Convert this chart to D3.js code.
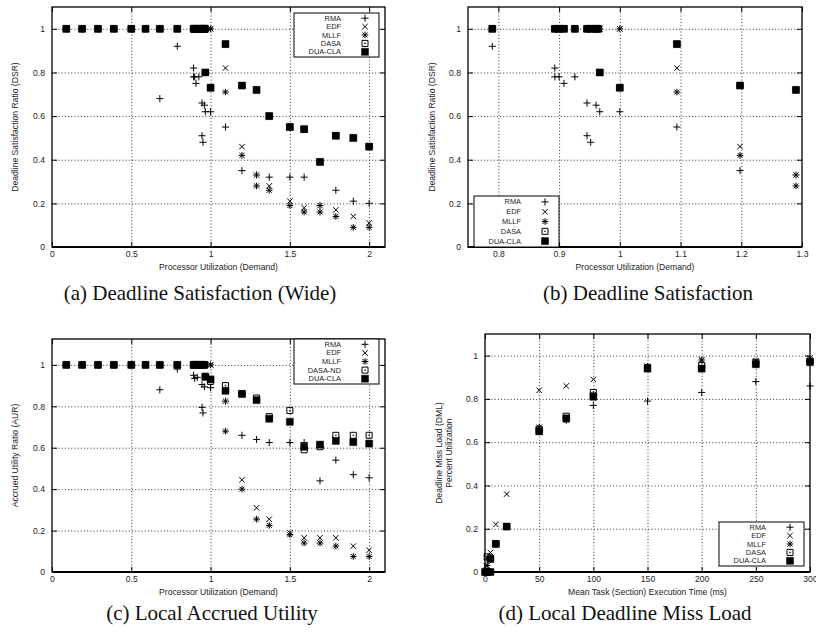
<!DOCTYPE html>
<html>
<head>
<meta charset="utf-8">
<script src="https://cdn.jsdelivr.net/npm/d3@7"></script>
<style>
  body { margin: 0; background: #fff; }
  svg { display: block; }
  .caption { font-family: "Liberation Serif", "DejaVu Serif", serif; fill: #111; }
  .axis-title, .legend-label { font-family: "Liberation Sans", Arial, sans-serif; fill: #222; }
</style>
</head>
<body>
<svg id="chart" width="816" height="635"></svg>
<script>
////////////////////////////////////////////////////////////////////////////////
// four gnuplot-style scatter panels: DSR (wide / zoomed), AUR, DML
////////////////////////////////////////////////////////////////////////////////

// Series / legend names
const seriesNames = ["RMA", "EDF", "MLLF", "DASA", "DUA-CLA"];
const seriesNamesAur = ["RMA", "EDF", "MLLF", "DASA-ND", "DUA-CLA"];

// Tick labels
const utilTicksWide = [0, 0.5, 1, 1.5, 2];
const utilTicksNarrow = [0.8, 0.9, 1, 1.1, 1.2, 1.3];
const execTicks = [0, 50, 100, 150, 200, 250, 300];
const ratioTicks = [0, 0.2, 0.4, 0.6, 0.8, 1];

// Deadline satisfaction ratio vs utilization  [utilization, DSR]
const dsrRMA = [[0.09, 1], [0.19, 1], [0.29, 1], [0.39, 1], [0.5, 1], [0.59, 1], [0.68, 0.68], [0.79, 0.92],
  [0.893, 0.82], [0.893, 0.78], [0.9, 0.78], [0.908, 0.75], [0.926, 0.78], [0.946, 0.66], [0.946, 0.51],
  [0.952, 0.48], [0.961, 0.65], [0.967, 0.62], [1.0, 0.62], [1.094, 0.55], [1.198, 0.35], [1.29, 0.33],
  [1.37, 0.32], [1.5, 0.32], [1.59, 0.32], [1.69, 0.19], [1.79, 0.26], [1.9, 0.21], [2.0, 0.2]];
const dsrEDF = [[0.09, 1], [0.19, 1], [0.29, 1], [0.39, 1], [0.5, 1], [0.59, 1], [0.68, 1], [0.79, 1],
  [0.893, 1], [0.9, 1], [0.908, 1], [0.926, 1], [0.946, 1], [0.952, 1], [0.961, 1], [0.967, 1], [1.0, 1],
  [1.094, 0.82], [1.198, 0.46], [1.29, 0.33], [1.37, 0.28], [1.5, 0.21], [1.59, 0.18], [1.69, 0.19],
  [1.79, 0.17], [1.9, 0.14], [2.0, 0.11]];
const dsrMLLF = [[0.09, 1], [0.19, 1], [0.29, 1], [0.39, 1], [0.5, 1], [0.59, 1], [0.68, 1], [0.79, 1],
  [0.893, 1], [0.9, 1], [0.908, 1], [0.926, 1], [0.946, 1], [0.952, 1], [0.961, 1], [0.967, 1], [1.0, 1],
  [1.094, 0.71], [1.198, 0.42], [1.29, 0.28], [1.37, 0.26], [1.5, 0.19], [1.59, 0.16], [1.69, 0.16],
  [1.79, 0.14], [1.9, 0.09], [2.0, 0.09]];
const dsrDASA = [[0.09, 1], [0.19, 1], [0.29, 1], [0.39, 1], [0.5, 1], [0.59, 1], [0.68, 1], [0.79, 1],
  [0.893, 1], [0.9, 1], [0.908, 1], [0.926, 1], [0.946, 1], [0.952, 1], [0.961, 1], [0.964, 1], [0.967, 0.8],
  [1.0, 0.73], [1.094, 0.93], [1.198, 0.74], [1.29, 0.72], [1.37, 0.6], [1.5, 0.55], [1.59, 0.54],
  [1.69, 0.39], [1.79, 0.51], [1.9, 0.5], [2.0, 0.46]];
const dsrDUA = [[0.09, 1], [0.19, 1], [0.29, 1], [0.39, 1], [0.5, 1], [0.59, 1], [0.68, 1], [0.79, 1],
  [0.893, 1], [0.9, 1], [0.908, 1], [0.926, 1], [0.946, 1], [0.952, 1], [0.961, 1], [0.964, 1], [0.967, 0.8],
  [1.0, 0.73], [1.094, 0.93], [1.198, 0.74], [1.29, 0.72], [1.37, 0.6], [1.5, 0.55], [1.59, 0.54],
  [1.69, 0.39], [1.79, 0.51], [1.9, 0.5], [2.0, 0.46]];

// Accrued utility ratio vs utilization  [utilization, AUR]
const aurRMA = [[0.09, 1], [0.19, 1], [0.29, 1], [0.39, 1], [0.5, 1], [0.59, 1], [0.68, 0.88], [0.79, 0.98],
  [0.893, 0.95], [0.9, 0.935], [0.916, 0.94], [0.946, 0.905], [0.961, 0.894], [1.0, 0.89], [0.946, 0.795],
  [0.952, 0.768], [1.094, 0.825], [1.198, 0.66], [1.29, 0.64], [1.37, 0.625], [1.5, 0.625], [1.59, 0.625],
  [1.69, 0.44], [1.79, 0.54], [1.9, 0.47], [2.0, 0.455]];
const aurEDF = [[0.09, 1], [0.19, 1], [0.29, 1], [0.39, 1], [0.5, 1], [0.59, 1], [0.68, 1], [0.79, 1],
  [0.893, 1], [0.9, 1], [0.908, 1], [0.926, 1], [0.946, 1], [0.961, 1], [1.0, 1], [1.094, 0.825],
  [1.198, 0.445], [1.29, 0.31], [1.37, 0.255], [1.5, 0.19], [1.59, 0.165], [1.69, 0.165], [1.79, 0.165],
  [1.9, 0.125], [2.0, 0.105]];
const aurMLLF = [[0.09, 1], [0.19, 1], [0.29, 1], [0.39, 1], [0.5, 1], [0.59, 1], [0.68, 1], [0.79, 1],
  [0.893, 1], [0.9, 1], [0.908, 1], [0.926, 1], [0.946, 1], [0.961, 1], [1.0, 1], [1.094, 0.68],
  [1.198, 0.4], [1.29, 0.255], [1.37, 0.225], [1.5, 0.18], [1.59, 0.14], [1.69, 0.14], [1.79, 0.125],
  [1.9, 0.075], [2.0, 0.075]];
const aurDASA = [[0.09, 1], [0.19, 1], [0.29, 1], [0.39, 1], [0.5, 1], [0.59, 1], [0.68, 1], [0.79, 1],
  [0.893, 1], [0.9, 1], [0.908, 1], [0.926, 1], [0.946, 1], [0.961, 1], [0.967, 0.945], [1.0, 0.92],
  [1.094, 0.9], [1.198, 0.86], [1.29, 0.84], [1.37, 0.75], [1.5, 0.78], [1.59, 0.59], [1.69, 0.605],
  [1.79, 0.66], [1.9, 0.66], [2.0, 0.66]];
const aurDUA = [[0.09, 1], [0.19, 1], [0.29, 1], [0.39, 1], [0.5, 1], [0.59, 1], [0.68, 1], [0.79, 1],
  [0.893, 1], [0.9, 1], [0.908, 1], [0.926, 1], [0.946, 1], [0.961, 1], [0.967, 0.942], [1.0, 0.93],
  [1.094, 0.875], [1.198, 0.86], [1.29, 0.83], [1.37, 0.74], [1.5, 0.725], [1.59, 0.605], [1.69, 0.615],
  [1.79, 0.633], [1.9, 0.627], [2.0, 0.62]];

// Deadline miss load vs mean execution time  [ms, DML]
const dmlRMA = [[1, 0], [2, 0], [5, 0], [10, 0.13], [20, 0.21], [50, 0.66], [75, 0.71], [100, 0.77],
  [150, 0.79], [200, 0.83], [250, 0.88], [300, 0.86]];
const dmlEDF = [[1, 0.03], [2, 0.065], [5, 0.09], [10, 0.22], [20, 0.36], [50, 0.84], [75, 0.86],
  [100, 0.89], [150, 0.95], [200, 0.98], [250, 0.975], [300, 0.99]];
const dmlMLLF = [[1, 0], [2, 0.03], [5, 0.06], [10, 0.13], [20, 0.21], [50, 0.67], [75, 0.7], [100, 0.82],
  [150, 0.95], [200, 0.98], [250, 0.97], [300, 0.98]];
const dmlDASA = [[1, 0], [2, 0.07], [5, 0.065], [10, 0.13], [20, 0.21], [50, 0.66], [75, 0.72],
  [100, 0.83], [150, 0.945], [200, 0.955], [250, 0.97], [300, 0.975]];
const dmlDUA = [[0, 0], [2.5, 0], [5, 0], [5, 0.06], [10, 0.13], [20, 0.21], [50, 0.65], [75, 0.71],
  [100, 0.81], [150, 0.94], [200, 0.94], [250, 0.96], [300, 0.97]];

// Marker shapes (d3 custom symbol types, stroked)
const plusSym = {
  draw(ctx, size) {
    const r = Math.sqrt(size) / 2;
    ctx.moveTo(-r, 0); ctx.lineTo(r, 0);
    ctx.moveTo(0, -r); ctx.lineTo(0, r);
  }
};
const timesSym = {
  draw(ctx, size) {
    const r = Math.sqrt(size) / 2;
    ctx.moveTo(-r, -r); ctx.lineTo(r, r);
    ctx.moveTo(-r, r); ctx.lineTo(r, -r);
  }
};
const starSym = {
  draw(ctx, size) {
    const r = Math.sqrt(size) / 2, q = r * 0.75;
    ctx.moveTo(-r, 0); ctx.lineTo(r, 0);
    ctx.moveTo(0, -r); ctx.lineTo(0, r);
    ctx.moveTo(-q, -q); ctx.lineTo(q, q);
    ctx.moveTo(-q, q); ctx.lineTo(q, -q);
  }
};

// one entry per series, same order as the legend
const markerStyles = [
  { type: plusSym, size: 50, fill: "none", dot: false },
  { type: timesSym, size: 30, fill: "none", dot: false },
  { type: starSym, size: 44, fill: "none", dot: false },
  { type: d3.symbolSquare, size: 36, fill: "none", dot: true },
  { type: d3.symbolSquare, size: 49, fill: "#000", dot: false }
];

const panels = [
  {
    id: "a", box: { left: 52, right: 385, top: 7, bottom: 247 },
    xDomain: [0, 2.1], yDomain: [0, 1.1], xTicks: utilTicksWide, yTicks: ratioTicks,
    series: [dsrRMA, dsrEDF, dsrMLLF, dsrDASA, dsrDUA], names: seriesNames,
    legend: { x: 294, y: 13, w: 85, h: 44 },
    xTitle: "Processor Utilization (Demand)", yTitle: ["Deadline Satisfaction Ratio (DSR)"], yTitleX: 15,
    caption: "(a) Deadline Satisfaction (Wide)", captionX: 200, captionY: 300
  },
  {
    id: "b", box: { left: 468, right: 802, top: 7, bottom: 247 },
    xDomain: [0.75, 1.3], yDomain: [0, 1.1], xTicks: utilTicksNarrow, yTicks: ratioTicks,
    series: [dsrRMA, dsrEDF, dsrMLLF, dsrDASA, dsrDUA], names: seriesNames,
    legend: { x: 474, y: 196, w: 85, h: 51 },
    xTitle: "Processor Utilization (Demand)", yTitle: ["Deadline Satisfaction Ratio (DSR)"], yTitleX: 432,
    caption: "(b) Deadline Satisfaction", captionX: 648, captionY: 300
  },
  {
    id: "c", box: { left: 52, right: 385, top: 339, bottom: 572 },
    xDomain: [0, 2.1], yDomain: [0, 1.125], xTicks: utilTicksWide, yTicks: ratioTicks,
    series: [aurRMA, aurEDF, aurMLLF, aurDASA, aurDUA], names: seriesNamesAur,
    legend: { x: 294, y: 339, w: 85, h: 45 },
    xTitle: "Processor Utilization (Demand)", yTitle: ["Accrued Utility Ratio (AUR)"], yTitleX: 15,
    caption: "(c) Local Accrued Utility", captionX: 212, captionY: 620
  },
  {
    id: "d", box: { left: 485, right: 810, top: 334, bottom: 572 },
    xDomain: [0, 300], yDomain: [0, 1.1], xTicks: execTicks, yTicks: ratioTicks,
    series: [dmlRMA, dmlEDF, dmlMLLF, dmlDASA, dmlDUA], names: seriesNames,
    legend: { x: 719, y: 522, w: 85, h: 44 },
    xTitle: "Mean Task (Section) Execution Time (ms)",
    yTitle: ["Deadline Miss Load (DML)", "Percent Utilization"], yTitleX: 444,
    caption: "(d) Local Deadline Miss Load", captionX: 625, captionY: 620
  }
];

const svg = d3.select("#chart");
const fmt = d3.format("~g");
const smallFont = 8.6;
const legendFont = 7.4;

function drawMarker(sel, style) {
  sel.append("path")
    .attr("d", d3.symbol().type(style.type).size(style.size)())
    .attr("fill", style.fill)
    .attr("stroke", "#000")
    .attr("stroke-width", style.fill === "none" ? 1 : 0.5);
  if (style.dot) sel.append("circle").attr("r", 0.8).attr("fill", "#000");
}

function styleAxis(sel) {
  sel.select(".domain").remove();
  sel.attr("font-size", smallFont)
    .attr("font-family", "'Liberation Sans', Arial, sans-serif");
  sel.selectAll(".tick line").attr("stroke", "#000").attr("stroke-width", 1);
  sel.selectAll(".tick text").attr("fill", "#222");
}

function drawPanel(p) {
  const b = p.box;
  const w = b.right - b.left, h = b.bottom - b.top;
  const g = svg.append("g").attr("class", "panel panel-" + p.id);

  const x = d3.scaleLinear().domain(p.xDomain).range([b.left, b.right]);
  const y = d3.scaleLinear().domain(p.yDomain).range([b.bottom, b.top]);

  // dotted grid, skipping lines that sit on the frame
  const gridX = p.xTicks.filter(v => x(v) > b.left + 1 && x(v) < b.right - 1);
  const gridY = p.yTicks.filter(v => y(v) < b.bottom - 1 && y(v) > b.top + 1);
  g.append("g")
    .attr("transform", `translate(0,${b.bottom})`)
    .call(d3.axisBottom(x).tickValues(gridX).tickSize(-h).tickFormat(""))
    .call(sel => sel.select(".domain").remove())
    .selectAll("line")
    .attr("stroke", "#000").attr("stroke-width", 0.8).attr("stroke-dasharray", "1,2.2");
  g.append("g")
    .attr("transform", `translate(${b.left},0)`)
    .call(d3.axisLeft(y).tickValues(gridY).tickSize(-w).tickFormat(""))
    .call(sel => sel.select(".domain").remove())
    .selectAll("line")
    .attr("stroke", "#000").attr("stroke-width", 0.8).attr("stroke-dasharray", "1,2.2");

  // axes with inward ticks, mirrored
  g.append("g")
    .attr("transform", `translate(0,${b.bottom})`)
    .call(d3.axisBottom(x).tickValues(p.xTicks).tickSizeInner(-5).tickSizeOuter(0).tickPadding(4).tickFormat(fmt))
    .call(styleAxis);
  g.append("g")
    .attr("transform", `translate(0,${b.top})`)
    .call(d3.axisTop(x).tickValues(p.xTicks).tickSizeInner(-5).tickSizeOuter(0).tickFormat(""))
    .call(styleAxis);
  g.append("g")
    .attr("transform", `translate(${b.left},0)`)
    .call(d3.axisLeft(y).tickValues(p.yTicks).tickSizeInner(-5).tickSizeOuter(0).tickPadding(7).tickFormat(fmt))
    .call(styleAxis);
  g.append("g")
    .attr("transform", `translate(${b.right},0)`)
    .call(d3.axisRight(y).tickValues(p.yTicks).tickSizeInner(-5).tickSizeOuter(0).tickFormat(""))
    .call(styleAxis);

  // frame
  g.append("rect")
    .attr("x", b.left).attr("y", b.top).attr("width", w).attr("height", h)
    .attr("fill", "none").attr("stroke", "#000").attr("stroke-width", 1.3);
  g.append("line")
    .attr("x1", b.left).attr("x2", b.right).attr("y1", y(0)).attr("y2", y(0))
    .attr("stroke", "#000").attr("stroke-width", 2);

  // points, drawn in legend order so DUA-CLA ends on top
  p.series.forEach((data, i) => {
    const pts = data.filter(d => d[0] >= p.xDomain[0] && d[0] <= p.xDomain[1]);
    g.append("g")
      .attr("class", "series s" + i)
      .selectAll("g")
      .data(pts)
      .join("g")
      .attr("transform", d => `translate(${x(d[0])},${y(d[1])})`)
      .each(function() { drawMarker(d3.select(this), markerStyles[i]); });
  });

  // legend box
  const L = p.legend;
  const lg = g.append("g").attr("class", "legend");
  lg.append("rect")
    .attr("x", L.x).attr("y", L.y).attr("width", L.w).attr("height", L.h)
    .attr("fill", "#fff").attr("stroke", "#000").attr("stroke-width", 1);
  const rowH = (L.h - 2) / p.names.length;
  p.names.forEach((name, i) => {
    const cy = L.y + 1 + rowH * (i + 0.5);
    lg.append("text")
      .attr("class", "legend-label")
      .attr("x", L.x + 47).attr("y", cy).attr("dy", "0.35em")
      .attr("text-anchor", "end")
      .attr("font-size", legendFont)
      .text(name);
    lg.append("g")
      .attr("transform", `translate(${L.x + 71},${cy})`)
      .call(sel => drawMarker(sel, markerStyles[i]));
  });

  // axis titles
  g.append("text")
    .attr("class", "axis-title")
    .attr("x", (b.left + b.right) / 2).attr("y", b.bottom + 23)
    .attr("text-anchor", "middle")
    .attr("font-size", smallFont)
    .text(p.xTitle);

  const yMid = (b.top + b.bottom) / 2;
  p.yTitle.forEach((line, i) => {
    const off = (i - (p.yTitle.length - 1) / 2) * 10;
    g.append("text")
      .attr("class", "axis-title")
      .attr("transform", `translate(${p.yTitleX + off},${yMid}) rotate(-90)`)
      .attr("dy", "0.35em")
      .attr("text-anchor", "middle")
      .attr("font-size", smallFont)
      .text(line);
  });

  // subfigure caption
  svg.append("text")
    .attr("class", "caption")
    .attr("x", p.captionX).attr("y", p.captionY)
    .attr("text-anchor", "middle")
    .attr("font-size", 21)
    .text(p.caption);
}

panels.forEach(drawPanel);
console.log("panels drawn:", panels.length);
</script>
</body>
</html>
